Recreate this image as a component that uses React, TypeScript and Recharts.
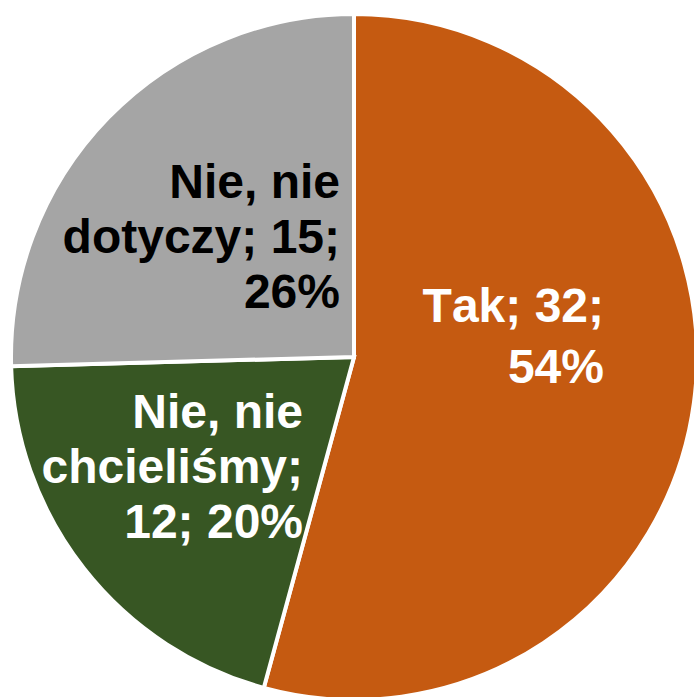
import React from "react";
import { PieChart, Pie, Cell } from "recharts";

const names = ["Tak", "Nie, nie chcieliśmy", "Nie, nie dotyczy"];
const values = [32, 12, 15];
const percents = ["54%", "20%", "26%"];
const colors = ["#C55A11", "#375623", "#A5A5A5"];
const labelColors = ["#FFFFFF", "#FFFFFF", "#000000"];
// label text lines per slice
const labelLines = [
  ["Tak; 32;", "54%"],
  ["Nie, nie", "chcieliśmy;", "12; 20%"],
  ["Nie, nie", "dotyczy; 15;", "26%"],
];
// label anchor offsets relative to pie center (right edge, first baseline)
const labelOffsets = [
  { dx: 250, dy: -35, lh: 61 },
  { dx: -51, dy: 71, lh: 55 },
  { dx: -14, dy: -159, lh: 55 },
];

const data = names.map((n, i) => ({ name: n, value: values[i], pct: percents[i] }));

const renderLabel = (props: any) => {
  const { cx, cy, index } = props;
  const off = labelOffsets[index];
  const lines = labelLines[index];
  return (
    <text
      key={`lbl-${index}`}
      x={cx + off.dx}
      y={cy + off.dy}
      textAnchor="end"
      fill={labelColors[index]}
      fontFamily="'Liberation Sans', Arial, sans-serif"
      fontWeight="bold"
      fontSize={48}
      style={{ fontKerning: "none" }}
    >
      {lines.map((l, j) => (
        <tspan key={j} x={cx + off.dx} dy={j === 0 ? 0 : off.lh}>
          {l}
        </tspan>
      ))}
    </text>
  );
};

export default function App() {
  return (
    <div style={{ position: "absolute", left: 0, top: 0, width: 694, height: 697, background: "#fff" }}>
      <PieChart width={694} height={697} margin={{ top: 0, right: 0, bottom: 0, left: 0 }}>
        <Pie
          data={data}
          dataKey="value"
          nameKey="name"
          cx={354}
          cy={357}
          outerRadius={343}
          startAngle={90}
          endAngle={-270}
          stroke="#FFFFFF"
          strokeWidth={4}
          label={renderLabel}
          labelLine={false}
          isAnimationActive={false}
        >
          {data.map((d, i) => (
            <Cell key={d.name} fill={colors[i]} />
          ))}
        </Pie>
      </PieChart>
    </div>
  );
}
